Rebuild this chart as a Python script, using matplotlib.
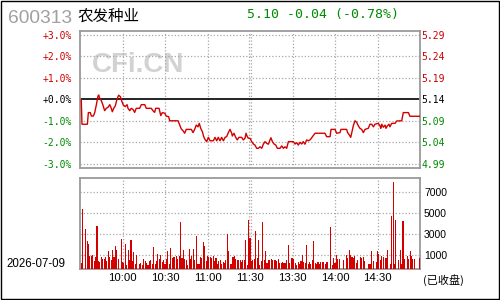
import matplotlib
matplotlib.use('Agg')
import matplotlib.pyplot as plt
from matplotlib.patches import Rectangle

plt.rcParams['font.family'] = ['DejaVu Sans', 'Noto Sans CJK SC']

# ---------------- data ----------------
stock_code = '600313'
stock_name = '农发种业'
prev_close = 5.14
last_price = 5.10
change = -0.04
change_pct = -0.78
trade_date = '2026-07-09'
status_text = '(已收盘)'

# minutes since 9:30 (11:30 and 13:00 share minute 120)
price_minutes = [
    0.9, 1.4, 5.2, 5.9, 7.3, 8.0, 9.4, 10.4, 11.5, 12.7,
    13.2, 13.9, 15.1, 16.2, 17.4, 18.6, 19.8, 21.0, 22.1, 22.8,
    23.8, 24.9, 26.1, 27.3, 28.5, 29.6, 30.6, 32.0, 33.2, 33.9,
    35.1, 36.2, 37.4, 38.6, 39.7, 42.1, 43.3, 45.7, 46.8, 50.3,
    51.5, 52.7, 53.4, 55.8, 57.0, 58.1, 59.8, 60.9, 62.6, 63.3,
    69.2, 70.4, 71.5, 72.7, 73.9, 75.0, 78.6, 79.8, 80.9, 82.1,
    83.3, 84.2, 85.2, 86.4, 87.3, 88.2, 89.4, 90.6, 91.8, 94.1,
    95.3, 96.5, 97.6, 98.8, 100.0, 101.2, 102.4, 103.5, 104.7, 105.9,
    107.1, 107.5, 108.7, 109.9, 111.0, 112.2, 114.1, 115.3, 116.5, 117.2,
    118.1, 118.8, 120.0, 121.2, 122.4, 123.5, 124.7, 125.9, 127.1, 128.3,
    129.4, 130.6, 131.8, 133.0, 134.1, 134.8, 135.8, 137.0, 138.2, 139.3,
    141.2, 142.4, 143.6, 144.7, 145.9, 147.1, 150.6, 151.8, 153.0, 154.1,
    155.3, 156.5, 157.6, 158.8, 160.0, 161.2, 162.4, 163.5, 165.9, 172.9,
    174.1, 176.5, 177.2, 180.0, 181.2, 183.5, 184.2, 188.2, 188.9, 190.1,
    191.1, 192.0, 192.9, 194.1, 195.3, 196.5, 197.6, 198.8, 200.0, 201.2,
    203.5, 204.7, 205.9, 207.1, 208.2, 210.6, 211.8, 212.3, 213.0, 214.1,
    215.3, 216.0, 216.9, 218.1, 218.8, 220.0, 222.4, 223.5, 227.1, 228.2,
    231.8, 232.9, 240.0,
]
price_pct = [
    -0.02, -1.15, -1.15, -0.61, -0.61, -0.77, -0.77, -0.61, -0.26, 0.16,
    0.21, 0.06, -0.06, -0.26, -0.52, -0.41, -0.36, -0.24, -0.41, -0.57,
    -0.41, -0.30, 0.01, 0.20, 0.13, -0.10, -0.26, -0.33, -0.24, -0.41,
    -0.52, -0.41, -0.46, -0.60, -0.41, -0.41, -0.24, -0.24, -0.41, -0.41,
    -0.52, -0.60, -0.41, -0.41, -0.75, -0.61, -0.64, -0.77, -0.80, -0.99,
    -0.99, -1.19, -1.37, -1.45, -1.57, -1.39, -1.39, -1.54, -1.39, -1.19,
    -1.27, -1.11, -1.34, -1.50, -1.73, -1.85, -1.96, -1.76, -1.92, -1.92,
    -1.76, -1.92, -1.76, -1.92, -1.76, -1.92, -1.76, -1.73, -1.54, -1.39,
    -1.57, -1.70, -1.57, -1.76, -1.88, -1.76, -1.76, -1.88, -1.80, -1.57,
    -1.73, -1.80, -1.80, -1.96, -2.07, -2.12, -2.27, -2.27, -2.20, -2.27,
    -2.08, -1.96, -2.04, -2.08, -1.88, -1.78, -1.96, -2.07, -2.12, -2.27,
    -2.27, -2.16, -2.27, -2.20, -2.27, -1.96, -1.96, -2.07, -2.01, -2.12,
    -1.99, -2.07, -1.96, -2.08, -1.88, -1.92, -1.88, -1.78, -1.57, -1.57,
    -1.73, -1.73, -1.39, -1.39, -1.57, -1.54, -1.39, -1.39, -1.54, -1.65,
    -1.76, -1.50, -1.23, -0.99, -1.06, -1.23, -1.34, -1.39, -1.54, -1.39,
    -1.34, -1.15, -1.15, -1.27, -1.15, -1.11, -1.23, -1.34, -1.15, -1.29,
    -1.19, -1.34, -1.23, -1.15, -1.27, -1.11, -1.11, -1.00, -0.99, -0.61,
    -0.61, -0.78, -0.78,
]

# per-minute volume, minute 0 .. 240
volume = [
    0, 570, 5740, 0, 3830, 2650, 2420, 1280, 1280, 1370,
    740, 1150, 4150, 740, 640, 1150, 980, 980, 1150, 740,
    1690, 1150, 890, 1850, 1150, 2230, 1850, 960, 0, 2900,
    640, 570, 2420, 410, 1790, 890, 2800, 740, 1600, 480,
    1310, 0, 480, 570, 410, 980, 740, 570, 410, 740,
    830, 510, 2070, 510, 740, 1460, 980, 1370, 640, 890,
    510, 960, 1750, 510, 2010, 1050, 1150, 1120, 1270, 960,
    1270, 4460, 1050, 1850, 960, 830, 410, 1940, 960, 1270,
    1940, 830, 3120, 480, 510, 1150, 1050, 2550, 2170, 730,
    1270, 1150, 1150, 1050, 1270, 730, 1050, 510, 730, 890,
    510, 640, 570, 890, 3350, 1690, 510, 510, 1150, 1210,
    960, 890, 830, 890, 640, 830, 890, 2740, 410, 4650,
    2960, 730, 830, 960, 3660, 1050, 2800, 410, 730, 4460,
    830, 1690, 570, 830, 830, 960, 890, 890, 830, 730,
    960, 570, 570, 640, 570, 570, 890, 2330, 570, 1050,
    1050, 960, 570, 410, 640, 510, 730, 1370, 640, 570,
    2330, 510, 640, 510, 890, 2650, 570, 480, 640, 510,
    640, 640, 640, 510, 640, 640, 0, 3990, 410, 1050,
    570, 1370, 960, 960, 0, 0, 890, 0, 1370, 1050,
    1850, 1370, 1150, 1050, 1270, 570, 890, 0, 1150, 1050,
    1150, 730, 0, 0, 510, 510, 1690, 730, 0, 640,
    1690, 1470, 830, 1210, 1150, 0, 1050, 1790, 0, 510,
    5100, 8350, 510, 4650, 0, 830, 1790, 510, 4560, 960,
    0, 1270, 960, 1690, 1270, 960, 960, 0, 0, 0,
    1050,
]

time_ticks = [30, 60, 90, 120, 150, 180, 210]
time_labels = ['10:00', '10:30', '11:00', '11:30', '13:30', '14:00', '14:30']
pct_ticks = [3, 2, 1, 0, -1, -2, -3]
vol_tick_labels = ['1000', '3000', '5000', '7000']

# ---------------- style ----------------
RED = '#d40000'
TXT_RED = '#cc0000'
TXT_GREEN = '#008a00'
GRID = '#a8a8a8'
FRAME = '#9a9a9a'
MONO = 'DejaVu Sans Mono'
SANS = 'Liberation Sans'
CJK = 'Noto Sans CJK SC'

fig = plt.figure(figsize=(5, 3), dpi=100)
fig.patch.set_facecolor('white')

ax = fig.add_axes([0.16, 0.44, 0.68, 0.4567])
axv = fig.add_axes([0.16, 0.1033, 0.68, 0.3033])

grid_kw = dict(color=GRID, lw=0.9, ls=(0, (1, 1.6)), zorder=1)
vgrid = [30, 60, 90, 119.5, 120.5, 150, 180, 210]

for a in (ax, axv):
    a.set_xlim(0, 240)
    for s in a.spines.values():
        s.set_color(FRAME)
        s.set_linewidth(1.3)
    for xv in vgrid:
        a.axvline(xv, **grid_kw)

# ---- price panel ----
ax.set_ylim(-3.186, 3.186)
for p in pct_ticks:
    if p != 0:
        ax.axhline(p, **grid_kw)
ax.axhline(0, color='black', lw=1.2, zorder=2)
ax.plot(price_minutes, price_pct, color=RED, lw=1.0, zorder=3)

ax.text(0.17, 0.752, 'CFi.CN', transform=ax.transAxes, ha='center', va='center',
        fontsize=20, fontweight='bold', family=SANS, color='#d2d2d2', zorder=0)

def pct_color(p):
    return TXT_RED if p > 0 else ('black' if p == 0 else TXT_GREEN)

ax.set_xticks([])
ax.set_yticks(pct_ticks)
ax.set_yticklabels([f'{p:+.1f}%' for p in pct_ticks], family=MONO, fontsize=7)
ax.tick_params(axis='y', length=0, pad=5.8)
for lab, p in zip(ax.get_yticklabels(), pct_ticks):
    lab.set_color(pct_color(p))

axr = ax.twinx()
axr.set_ylim(ax.get_ylim())
axr.set_yticks(pct_ticks)
axr.set_yticklabels([f'{prev_close * (1 + p / 100):.2f}' for p in pct_ticks],
                    family=MONO, fontsize=7)
axr.tick_params(axis='y', length=0, pad=1.2)
for lab, p in zip(axr.get_yticklabels(), pct_ticks):
    lab.set_color(pct_color(p))
for s in axr.spines.values():
    s.set_visible(False)

# ---- volume panel ----
minutes = list(range(len(volume)))
axv.set_ylim(0, 8700)
axv.bar(minutes, volume, width=0.75, color=RED, linewidth=0, zorder=3)
vol_pos = [int(v) + 335 for v in vol_tick_labels]
for v in vol_pos:
    axv.axhline(v, **grid_kw)
axv.yaxis.tick_right()
axv.set_yticks(vol_pos)
axv.set_yticklabels(vol_tick_labels, family=SANS, fontsize=7.5, color='black')
axv.tick_params(axis='y', length=0, pad=2.9)
axv.set_xticks(time_ticks)
axv.set_xticklabels(time_labels, family=SANS, fontsize=8.2, color='black')
axv.tick_params(axis='x', length=0, pad=2.8)

# ---- header / footer texts ----
fig.text(8 / 500, 0.9233, stock_code, family=SANS, fontsize=13.8,
         color='#a0a0a0', va='baseline', ha='left')
fig.text(77 / 500, 0.930, stock_name, family=CJK, fontsize=11.2,
         color='black', va='baseline', ha='left')
fig.text(246.7 / 500, 0.939,
         f'{last_price:.2f} {change:+.2f} ({change_pct:+.2f}%)',
         family=MONO, fontsize=9.5, color=TXT_GREEN, va='baseline', ha='left')
fig.text(6.7 / 500, 0.111, trade_date, family=SANS, fontsize=8.3,
         color='black', va='baseline', ha='left')
fig.text(423 / 500, 0.0533, status_text, family=[CJK, 'DejaVu Sans'], fontsize=8,
         color='black', va='baseline', ha='left')

# outer border
fig.add_artist(Rectangle((0.5 / 500, 1.5 / 300), 498 / 500, 298 / 300,
                         transform=fig.transFigure, fill=False,
                         edgecolor='black', lw=1.0))

fig.savefig('out.png', dpi=100)
